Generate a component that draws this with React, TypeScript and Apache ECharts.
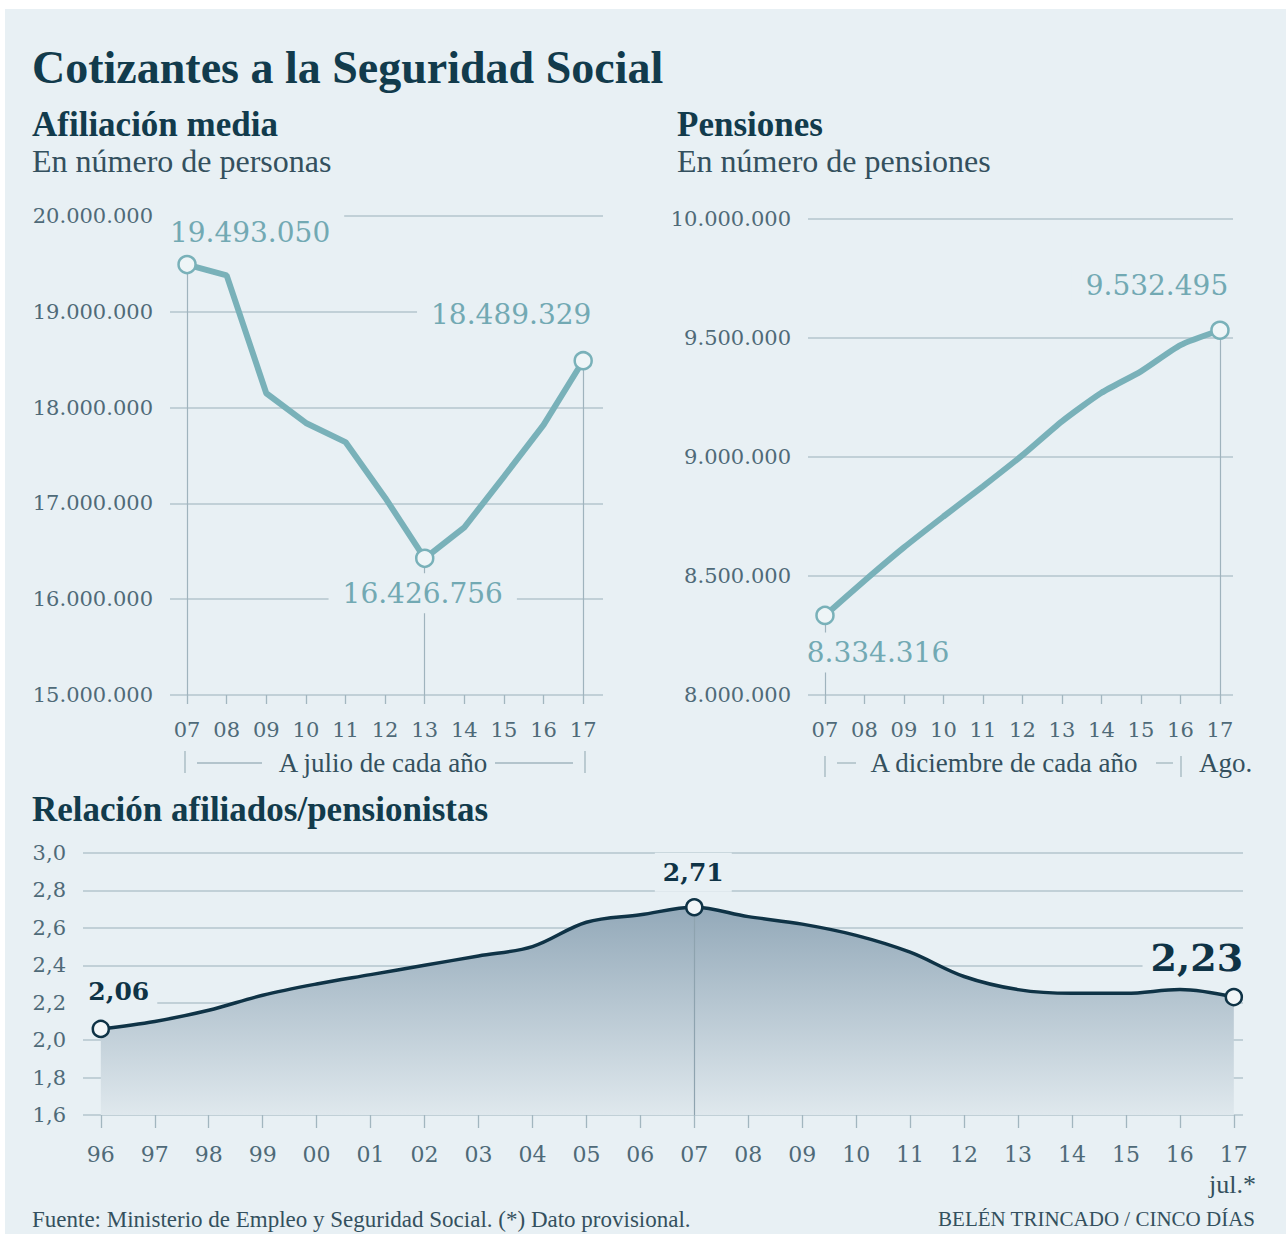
import React, { useEffect, useRef } from "react";
import * as echarts from "echarts";

// ---------- data ----------
const afilYears = ["07", "08", "09", "10", "11", "12", "13", "14", "15", "16", "17"];
const afilValues = [19493050, 19380000, 18150000, 17840000, 17640000, 17060000, 16426756, 16750000, 17280000, 17820000, 18489329];
const afilTicks = [15000000, 16000000, 17000000, 18000000, 19000000, 20000000];
const afilMarked = [0, 6, 10];

const pensYears = ["07", "08", "09", "10", "11", "12", "13", "14", "15", "16", "17"];
const pensValues = [8334316, 8480000, 8620000, 8750000, 8877000, 9008000, 9150000, 9270000, 9360000, 9470000, 9532495];
const pensTicks = [8000000, 8500000, 9000000, 9500000, 10000000];
const pensMarked = [0, 10];

const ratioYears = ["96", "97", "98", "99", "00", "01", "02", "03", "04", "05", "06", "07", "08", "09", "10", "11", "12", "13", "14", "15", "16", "17"];
const ratioValues = [2.06, 2.1, 2.16, 2.24, 2.3, 2.35, 2.4, 2.45, 2.5, 2.63, 2.67, 2.71, 2.66, 2.62, 2.56, 2.47, 2.34, 2.27, 2.25, 2.25, 2.27, 2.23];
const ratioTicks = [1.6, 1.8, 2.0, 2.2, 2.4, 2.6, 2.8, 3.0];
const ratioMarked = [0, 11, 21];

const texts = {
  title: "Cotizantes a la Seguridad Social",
  afilTitle: "Afiliación media",
  afilSub: "En número de personas",
  pensTitle: "Pensiones",
  pensSub: "En número de pensiones",
  ratioTitle: "Relación afiliados/pensionistas",
  afilNote: "A julio de cada año",
  pensNote: "A diciembre de cada año",
  pensNote2: "Ago.",
  ratioNote: "jul.*",
  source: "Fuente: Ministerio de Empleo y Seguridad Social. (*) Dato provisional.",
  credit: "BELÉN TRINCADO / CINCO DÍAS",
};

// ---------- styles ----------
const BG = "#e8f0f4";
const TEAL = "#79b1b9";
const TEAL_TXT = "#72a9b3";
const NAVY = "#0f3346";
const TITLE = "#123b4c";
const SUB = "#34505e";
const AXIS_TXT = "#4f6a78";
const GRID = "#b4c6ce";
const TICK = "#a2b6bf";
const NUM = '"DejaVu Serif"';
const TXT = '"Liberation Serif"';

function fmtThousands(n: number): string {
  return Math.round(n).toString().replace(/\B(?=(\d{3})+(?!\d))/g, ".");
}
function fmtComma(n: number, d: number): string {
  return n.toFixed(d).replace(".", ",");
}

function txt(text: string, x: number, y: number, font: string, fill: string, align = "left") {
  return {
    type: "text",
    x,
    y,
    silent: true,
    style: { text, font, fill, align, verticalAlign: "middle", textAlign: align, textVerticalAlign: "middle" },
  };
}
function ln(x1: number, y1: number, x2: number, y2: number, stroke = TICK) {
  return { type: "line", silent: true, shape: { x1, y1, x2, y2 }, style: { stroke, lineWidth: 1.3 } };
}

export default function App() {
  const ref = useRef<HTMLDivElement>(null);

  useEffect(() => {
    if (!ref.current) return;
    const chart = echarts.init(ref.current, undefined, { renderer: "svg" });

    const afilOffsets: Record<number, number[]> = { 0: [63, -32], 6: [-2, 35], 10: [-72, -46] };
    const pensOffsets: Record<number, number[]> = { 0: [53, 37], 10: [-63, -45] };
    const ratioOffsets: Record<number, number[]> = { 0: [18, -37], 11: [-1, -35], 21: [-37, -40] };

    const tealLabel = {
      show: true,
      position: "inside",
      align: "center",
      verticalAlign: "middle",
      color: TEAL_TXT,
      fontFamily: NUM,
      fontSize: 28,
      backgroundColor: BG,
      padding: [6, 14],
    };

    const buildTop = (values: number[], marked: number[], offs: Record<number, number[]>) =>
      values.map((v, i) =>
        marked.includes(i)
          ? {
              value: [i, v],
              label: { ...tealLabel, offset: offs[i], formatter: (p: any) => fmtThousands(p.value[1]) },
            }
          : { value: [i, v], label: { show: false } }
      );

    const valueX = (grid: number, years: string[], min: number, max: number, size: number, margin: number, tickLen: number) => ({
      type: "value",
      gridIndex: grid,
      min,
      max,
      axisLine: { show: false },
      splitLine: { show: false },
      axisTick: {
        show: true,
        customValues: years.map((_, i) => i),
        length: tickLen,
        lineStyle: { color: TICK, width: 1.3 },
      },
      axisLabel: {
        customValues: years.map((_, i) => i),
        formatter: (v: number) => years[Math.round(v)],
        margin,
        color: AXIS_TXT,
        fontFamily: NUM,
        fontSize: size,
      },
    });

    const valueY = (grid: number, ticks: number[], interval: number, fmt: (v: number) => string) => ({
      type: "value",
      gridIndex: grid,
      min: ticks[0],
      max: ticks[ticks.length - 1],
      interval,
      axisLine: { show: false },
      axisTick: { show: false },
      splitLine: { show: true, lineStyle: { color: GRID, width: 1.5 } },
      axisLabel: { margin: 17, color: AXIS_TXT, fontFamily: NUM, fontSize: 21, formatter: fmt },
    });

    const option: any = {
      animation: false,
      backgroundColor: "transparent",
      grid: [
        { left: 170, top: 216, width: 433, height: 479 },
        { left: 808, top: 219, width: 425, height: 476 },
        { left: 83, top: 853, width: 1160, height: 262 },
      ],
      xAxis: [
        valueX(0, afilYears, -0.43, 10.5, 21, 24, 9),
        valueX(1, pensYears, -0.43, 10.33, 21, 24, 9),
        valueX(2, ratioYears, -0.33, 21.17, 22, 28, 13),
      ],
      yAxis: [
        valueY(0, afilTicks, 1000000, (v) => fmtThousands(v)),
        valueY(1, pensTicks, 500000, (v) => fmtThousands(v)),
        valueY(2, ratioTicks, 0.2, (v) => fmtComma(v, 1)),
      ],
      series: [
        {
          type: "line",
          xAxisIndex: 0,
          yAxisIndex: 0,
          z: 3,
          data: buildTop(afilValues, afilMarked, afilOffsets),
          symbol: "circle",
          symbolSize: (_v: any, p: any) => (afilMarked.includes(p.dataIndex) ? 17 : 0),
          lineStyle: { color: TEAL, width: 6 },
          itemStyle: { color: "#eef5f7", borderColor: TEAL, borderWidth: 2.5 },
          silent: true,
          markLine: {
            silent: true,
            z: 2,
            symbol: "none",
            label: { show: false },
            lineStyle: { color: "#9fb3bd", width: 1.2, type: "solid" },
            data: afilMarked.map((i) => [{ coord: [i, afilValues[i]] }, { coord: [i, afilTicks[0]] }]),
          },
        },
        {
          type: "line",
          xAxisIndex: 1,
          yAxisIndex: 1,
          z: 3,
          smooth: 0.2,
          data: buildTop(pensValues, pensMarked, pensOffsets),
          symbol: "circle",
          symbolSize: (_v: any, p: any) => (pensMarked.includes(p.dataIndex) ? 17 : 0),
          lineStyle: { color: TEAL, width: 6 },
          itemStyle: { color: "#eef5f7", borderColor: TEAL, borderWidth: 2.5 },
          silent: true,
          markLine: {
            silent: true,
            z: 2,
            symbol: "none",
            label: { show: false },
            lineStyle: { color: "#9fb3bd", width: 1.2, type: "solid" },
            data: pensMarked.map((i) => [{ coord: [i, pensValues[i]] }, { coord: [i, pensTicks[0]] }]),
          },
        },
        {
          type: "line",
          xAxisIndex: 2,
          yAxisIndex: 2,
          z: 1,
          smooth: 0.35,
          symbol: "none",
          silent: true,
          data: ratioValues.map((v, i) => [i, v]),
          lineStyle: { width: 0 },
          areaStyle: {
            opacity: 1,
            color: new echarts.graphic.LinearGradient(0, 0, 0, 1, [
              { offset: 0, color: "#93a9b9" },
              { offset: 1, color: "#dfe8ed" },
            ]),
          },
        },
        {
          type: "line",
          xAxisIndex: 2,
          yAxisIndex: 2,
          z: 3,
          smooth: 0.35,
          silent: true,
          data: ratioValues.map((v, i) =>
            ratioMarked.includes(i)
              ? {
                  value: [i, v],
                  label: {
                    show: true,
                    position: "inside",
                    align: "center",
                    verticalAlign: "middle",
                    offset: ratioOffsets[i],
                    color: NAVY,
                    fontFamily: NUM,
                    fontWeight: "bold",
                    fontSize: i === 21 ? 38 : 25,
                    backgroundColor: BG,
                    padding: [7, 8],
                    formatter: (p: any) => fmtComma(p.value[1], 2),
                  },
                }
              : { value: [i, v], label: { show: false } }
          ),
          symbol: "circle",
          symbolSize: (_v: any, p: any) => (ratioMarked.includes(p.dataIndex) ? 16 : 0),
          lineStyle: { color: NAVY, width: 3.5 },
          itemStyle: { color: "#f2f6f8", borderColor: NAVY, borderWidth: 2.5 },
          markLine: {
            silent: true,
            z: 2,
            symbol: "none",
            label: { show: false },
            lineStyle: { color: "#8ea3af", width: 1.2, type: "solid" },
            data: [[{ coord: [11, ratioValues[11]] }, { coord: [11, ratioTicks[0]] }]],
          },
        },
      ],
      graphic: [
        txt(texts.title, 32, 67, `bold 46px ${TXT}`, TITLE),
        txt(texts.afilTitle, 32, 124, `bold 35px ${TXT}`, TITLE),
        txt(texts.afilSub, 32, 161, `32px ${TXT}`, SUB),
        txt(texts.pensTitle, 677, 124, `bold 35px ${TXT}`, TITLE),
        txt(texts.pensSub, 677, 161, `32px ${TXT}`, SUB),
        txt(texts.ratioTitle, 32, 809, `bold 35px ${TXT}`, TITLE),
        txt(texts.afilNote, 383, 763, `27px ${TXT}`, SUB, "center"),
        ln(185, 751, 185, 773),
        ln(197, 763, 262, 763),
        ln(495, 763, 573, 763),
        ln(585, 751, 585, 773),
        txt(texts.pensNote, 1004, 763, `27px ${TXT}`, SUB, "center"),
        ln(825, 756, 825, 777),
        ln(837, 763, 856, 763),
        ln(1156, 763, 1173, 763),
        ln(1181, 756, 1181, 777),
        txt(texts.pensNote2, 1199, 763, `27px ${TXT}`, SUB),
        txt(texts.ratioNote, 1256, 1184, `26px ${TXT}`, SUB, "right"),
        txt(texts.source, 32, 1219, `23px ${TXT}`, SUB),
        txt(texts.credit, 1255, 1219, `21px ${TXT}`, SUB, "right"),
      ],
    };

    chart.setOption(option);
    return () => chart.dispose();
  }, []);

  return (
    <div style={{ position: "absolute", left: 0, top: 0, width: 1286, height: 1234, background: "#ffffff", overflow: "hidden" }}>
      <div style={{ position: "absolute", left: 5, top: 9, width: 1281, height: 1225, background: BG }} />
      <div ref={ref} style={{ position: "absolute", left: 0, top: 0, width: 1286, height: 1234 }} />
    </div>
  );
}
